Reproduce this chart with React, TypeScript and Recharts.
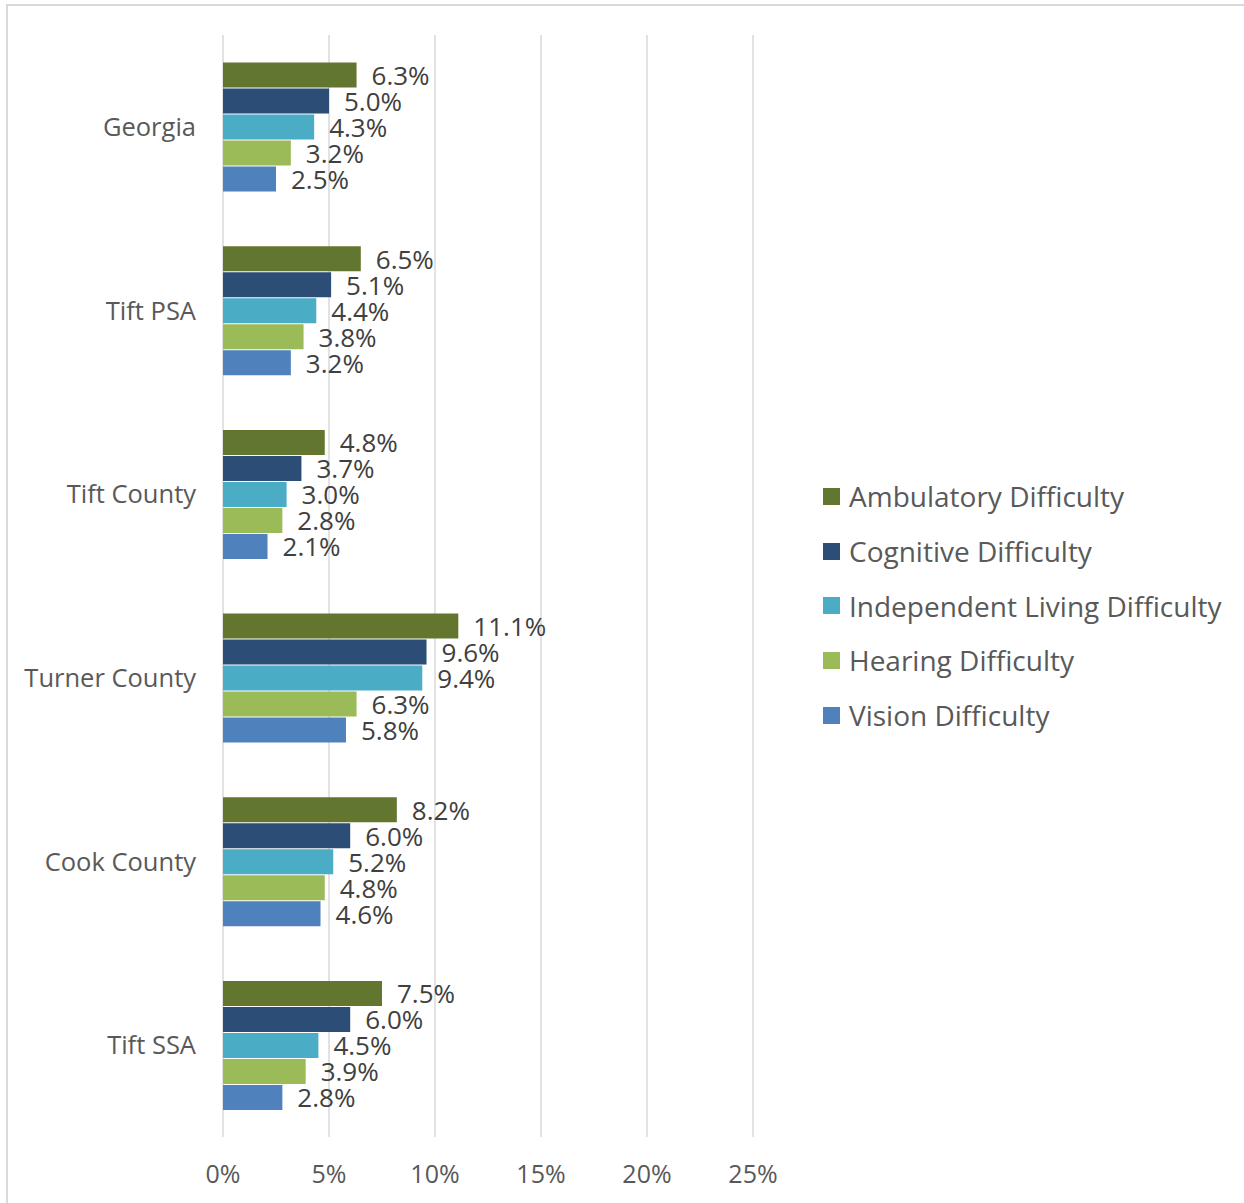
import React from 'react';
import { BarChart, Bar, XAxis, YAxis, CartesianGrid, Legend, LabelList } from 'recharts';

const categories = ['Georgia', 'Tift PSA', 'Tift County', 'Turner County', 'Cook County', 'Tift SSA'];
const ambulatory = [6.3, 6.5, 4.8, 11.1, 8.2, 7.5];
const cognitive = [5.0, 5.1, 3.7, 9.6, 6.0, 6.0];
const independentLiving = [4.3, 4.4, 3.0, 9.4, 5.2, 4.5];
const hearing = [3.2, 3.8, 2.8, 6.3, 4.8, 3.9];
const vision = [2.5, 3.2, 2.1, 5.8, 4.6, 2.8];
const xTicks = [0, 5, 10, 15, 20, 25];

const series = [
	{ key: 'ambulatory', name: 'Ambulatory Difficulty', color: '#63762F' },
	{ key: 'cognitive', name: 'Cognitive Difficulty', color: '#2C4D75' },
	{ key: 'independent', name: 'Independent Living Difficulty', color: '#4BACC6' },
	{ key: 'hearing', name: 'Hearing Difficulty', color: '#9BBB59' },
	{ key: 'vision', name: 'Vision Difficulty', color: '#4F81BD' },
];

const chartData = categories.map((name, i) => ({
	name,
	ambulatory: ambulatory[i],
	cognitive: cognitive[i],
	independent: independentLiving[i],
	hearing: hearing[i],
	vision: vision[i],
}));

const FONT = '"Open Sans", sans-serif';

// data label drawn just right of the bar end
function ValueLabel(props: any) {
	const { x, y, width, height, value } = props;
	return (
		<text
			x={x + width + 15}
			y={y + height / 2}
			dominantBaseline="central"
			fontFamily={FONT}
			fontSize={26}
			fill="#404040"
		>
			{`${Number(value).toFixed(1)}%`}
		</text>
	);
}

function CategoryTick(props: any) {
	const { x, y, payload } = props;
	return (
		<text x={x} y={y} dy={9} textAnchor="end" fontFamily={FONT} fontSize={25.5} fill="#595959">
			{payload.value}
		</text>
	);
}

function PercentTick(props: any) {
	const { x, y, payload } = props;
	return (
		<text x={x} y={y} dy={46} textAnchor="middle" fontFamily={FONT} fontSize={25} fill="#595959">
			{`${payload.value}%`}
		</text>
	);
}

function LegendBox() {
	return (
		<div style={{ fontFamily: FONT, fontSize: 28, color: '#595959' }}>
			{series.map((s) => (
				<div key={s.key} style={{ display: 'flex', alignItems: 'center', height: 54.7, whiteSpace: 'nowrap' }}>
					<span style={{ display: 'inline-block', width: 17, height: 17, background: s.color, marginRight: 9 }} />
					<span>{s.name}</span>
				</div>
			))}
		</div>
	);
}

export default function App() {
	return (
		<div
			style={{
				position: 'absolute',
				left: 6,
				top: 4,
				width: 1238,
				height: 1199,
				boxSizing: 'border-box',
				borderLeft: '2px solid #d9d9d9',
				borderTop: '2px solid #d9d9d9',
				background: '#fff',
			}}
		>
			<BarChart
				width={1236}
				height={1197}
				data={chartData}
				layout="vertical"
				margin={{ top: 29, right: 491, left: 0, bottom: 0 }}
				barCategoryGap="15%"
				barGap={1}
			>
				<CartesianGrid horizontal={false} stroke="#d9d9d9" strokeWidth={1.5} />
				<XAxis
					type="number"
					domain={[0, 25]}
					ticks={xTicks}
					axisLine={false}
					tickLine={false}
					tickSize={0}
					tickMargin={0}
					height={66}
					tick={<PercentTick />}
					interval={0}
				/>
				<YAxis
					type="category"
					dataKey="name"
					width={215}
					axisLine={false}
					tickLine={false}
					tickSize={0}
					tickMargin={27}
					tick={<CategoryTick />}
					interval={0}
				/>
				<Legend
					layout="vertical"
					align="center"
					verticalAlign="middle"
					content={() => <LegendBox />}
					wrapperStyle={{ position: 'absolute', left: 815, top: 463, width: 420 }}
				/>
				{series.map((s) => (
					<Bar key={s.key} dataKey={s.key} name={s.name} fill={s.color} isAnimationActive={false}>
						<LabelList dataKey={s.key} content={<ValueLabel />} />
					</Bar>
				))}
			</BarChart>
		</div>
	);
}
